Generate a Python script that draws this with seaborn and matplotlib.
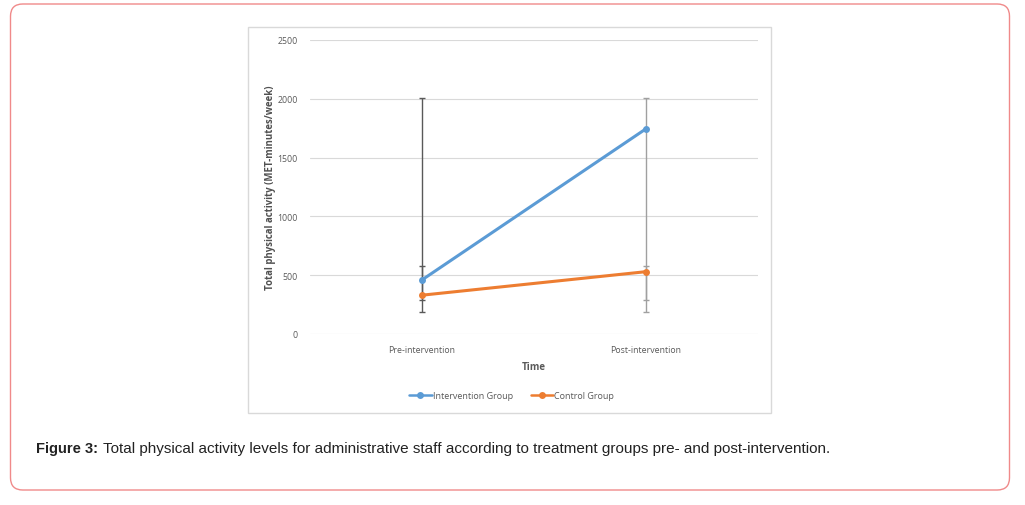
import matplotlib
matplotlib.use("Agg")
import matplotlib.pyplot as plt
from matplotlib.patches import FancyBboxPatch, Rectangle
import seaborn as sns
import pandas as pd

# ---- data ----
time_labels = ["Pre-intervention", "Post-intervention"]
groups = ["Intervention Group", "Control Group"]
intervention_mean = [460, 1745]
control_mean = [330, 530]
intervention_low = [190, 290]
intervention_high = [2010, 2010]
control_low = [290, 190]
control_high = [575, 575]
y_ticks = [0, 500, 1000, 1500, 2000, 2500]
colors = ["#5B9BD5", "#ED7D31"]
caption_bold = "Figure 3:"
caption_text = "Total physical activity levels for administrative staff according to treatment groups pre- and post-intervention."

df = pd.DataFrame({
    "x": [0, 1, 0, 1],
    "value": intervention_mean + control_mean,
    "group": [groups[0]] * 2 + [groups[1]] * 2,
})

sns.set_theme(style="white")
plt.rcParams["font.family"] = ["Open Sans", "DejaVu Sans"]

W, H = 1025, 506
fig = plt.figure(figsize=(W / 100, H / 100), dpi=100)
fig.patch.set_facecolor("white")

# outer rounded frame
outer = FancyBboxPatch((10.5 / W, 15 / H), 999 / W, 486 / H,
                       boxstyle="round,pad=0,rounding_size=0.012",
                       transform=fig.transFigure, fill=False,
                       edgecolor="#F08A8A", linewidth=1.0, zorder=0,
                       mutation_aspect=W / H)
fig.patches.append(outer)

# chart box
box = Rectangle((248 / W, 1 - 414 / H), (771 - 248) / W, (414 - 28) / H,
                transform=fig.transFigure, fill=False,
                edgecolor="#D9D9D9", linewidth=1.0, zorder=0)
fig.patches.append(box)

ax = fig.add_axes([310 / W, 1 - 335 / H, 448 / W, 294 / H])
ax.set_facecolor("none")

# error bars (drawn behind lines)
err_colors = ["#595959", "#A0A0A0"]
for i in range(2):
    for low, high in ((intervention_low, intervention_high), (control_low, control_high)):
        ax.vlines(i, low[i], high[i], color=err_colors[i], linewidth=1.0, zorder=1)
        ax.hlines([low[i], high[i]], i - 0.012, i + 0.012, color=err_colors[i], linewidth=1.0, zorder=1)

sns.lineplot(data=df, x="x", y="value", hue="group", palette=colors,
             marker="o", markersize=5, markeredgewidth=0, linewidth=2.2,
             ax=ax, zorder=3, legend=True)

ax.set_xlim(-0.5, 1.5)
ax.set_ylim(0, 2500)
ax.set_yticks(y_ticks)
ax.set_yticklabels([str(t) for t in y_ticks])
ax.set_xticks([0, 1])
ax.set_xticklabels(time_labels)
ax.tick_params(axis="both", length=0, labelsize=6.3, labelcolor="#595959", pad=8)
ax.tick_params(axis="y", pad=9)
ax.yaxis.grid(True, color="#D9D9D9", linewidth=0.8)
ax.xaxis.grid(False)
for s in ax.spines.values():
    s.set_visible(False)
ax.set_axisbelow(True)

ax.set_xlabel("Time", fontsize=7, fontweight="bold", color="#595959", labelpad=5)
ax.set_ylabel("Total physical activity (MET-minutes/week)", fontsize=6.9,
              fontweight="bold", color="#505050")
ax.yaxis.set_label_coords(-(310 - 276) / 448, 0.5)

leg = ax.legend(loc="center", bbox_to_anchor=(0.45, -0.21), ncol=2,
                frameon=False, fontsize=6.5, handlelength=2.5, columnspacing=2.0,
                handletextpad=0.1, labelcolor="#595959")
for h in leg.get_lines():
    h.set_linewidth(1.8)

# caption
cap_y = 1 - 449 / H
t1 = fig.text(36 / W, cap_y, caption_bold, fontsize=10.5, fontweight="bold",
              family=["Liberation Sans", "DejaVu Sans"], va="center", color="#222222")
fig.canvas.draw()
bb = t1.get_window_extent(fig.canvas.get_renderer())
fig.text((bb.x1 + 5) / W, cap_y, caption_text, fontsize=11.0,
         family=["Liberation Sans", "DejaVu Sans"], va="center", color="#222222")

fig.savefig("out.png", dpi=100)
